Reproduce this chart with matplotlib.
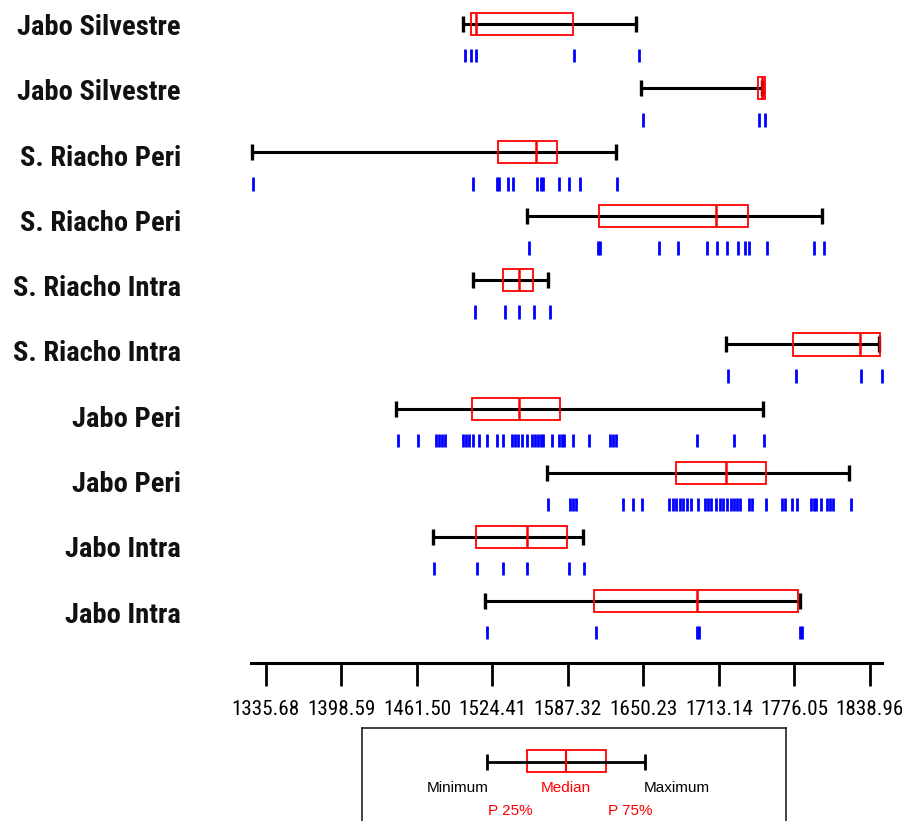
import numpy as np
import matplotlib.pyplot as plt
from matplotlib.patches import Rectangle
from matplotlib import transforms
from matplotlib import font_manager as fm

# rows from top to bottom
labels = ["Jabo Silvestre", "Jabo Silvestre", "S. Riacho Peri", "S. Riacho Peri",
          "S. Riacho Intra", "S. Riacho Intra", "Jabo Peri", "Jabo Peri",
          "Jabo Intra", "Jabo Intra"]

mins = [1499.9, 1647.8, 1323.8, 1552.9, 1507.9, 1719.0, 1444.0, 1569.6, 1474.6, 1518.2]
q1s = [1506.1, 1745.4, 1529.3, 1613.2, 1533.4, 1775.1, 1507.3, 1677.4, 1510.4, 1609.3]
meds = [1510.3, 1748.7, 1560.7, 1710.7, 1546.8, 1830.7, 1546.8, 1719.0, 1552.9, 1694.6]
q3s = [1591.9, 1751.5, 1578.4, 1737.6, 1558.4, 1847.3, 1580.9, 1752.3, 1586.8, 1778.8]
maxs = [1644.4, 1748.7, 1627.1, 1798.8, 1570.9, 1846.8, 1749.6, 1821.5, 1599.6, 1780.7]

# individual observations (rug under each box)
rug = [
    [1501.5, 1506.3, 1510.7, 1592.6, 1646.2],
    [1649.6, 1746.8, 1751.5],
    [1324.8, 1508.4, 1527.9, 1530.1, 1537.1, 1541.8, 1561.3, 1564.9, 1566.8,
     1579.8, 1588.2, 1597.3, 1627.9],
    [1555.1, 1612.3, 1614.0, 1663.4, 1678.8, 1703.0, 1711.3, 1719.6, 1728.8,
     1734.8, 1738.4, 1752.9, 1792.6, 1800.7],
    [1509.8, 1534.8, 1546.8, 1559.0, 1572.3],
    [1720.9, 1777.1, 1831.3, 1848.7],
    [1445.9, 1462.6, 1477.3, 1479.8, 1482.3, 1484.8, 1499.8, 1502.3, 1504.8,
     1508.4, 1513.4, 1519.6, 1528.4, 1532.9, 1540.7, 1543.2, 1545.3, 1548.7,
     1552.9, 1557.3, 1559.8, 1562.3, 1564.8, 1566.5, 1573.8, 1580.2, 1582.3,
     1584.4, 1591.2, 1605.1, 1622.7, 1625.2, 1627.7, 1694.6, 1725.6, 1750.6],
    [1570.9, 1589.0, 1591.5, 1594.4, 1633.4, 1641.3, 1648.8, 1671.5, 1674.4,
     1677.4, 1680.3, 1682.8, 1686.1, 1689.9, 1695.9, 1701.1, 1703.6, 1706.1,
     1710.7, 1713.6, 1716.5, 1719.9, 1722.8, 1725.7, 1728.2, 1730.7, 1737.8,
     1740.7, 1752.1, 1765.4, 1768.2, 1774.3, 1777.9, 1789.4, 1791.9, 1794.0,
     1798.2, 1802.9, 1805.7, 1807.9, 1822.9],
    [1475.7, 1511.3, 1532.9, 1553.4, 1587.9, 1600.9],
    [1519.6, 1610.4, 1694.6, 1696.2, 1780.7, 1782.3],
]

tick_values = [1335.68, 1398.59, 1461.50, 1524.41, 1587.32, 1650.23, 1713.14, 1776.05, 1838.96]
tick_labels = ["%.2f" % v for v in tick_values]

# legend key: min, P25, median, P75, max (schematic)
legend_stats = [0.0, 0.25, 0.5, 0.75, 1.0]

# pick a narrow font if one is there, otherwise plain Liberation Sans a bit smaller
names = {f.name for f in fm.fontManager.ttflist}
if 'Liberation Sans Narrow' in names:
    narrow = dict(family=['Liberation Sans Narrow', 'DejaVu Sans'])
    lab_size, tick_size = 20, 16
elif 'Roboto Condensed' in names:
    narrow = dict(family=['Roboto Condensed', 'DejaVu Sans'])
    lab_size, tick_size = 20.5, 15.2
else:
    narrow = dict(family=['Liberation Sans', 'DejaVu Sans'])
    lab_size, tick_size = 17, 13.5

fig = plt.figure(figsize=(9.03, 8.21), dpi=100)
ax = fig.add_axes([0, 0, 1, 1])
ax.set_xlim(1114.04, 1866.46)
ax.set_ylim(12.434, -0.374)

for i in range(len(labels)):
    y = i
    ax.hlines(y, mins[i], maxs[i], color='black', lw=2.2, zorder=2)
    ax.vlines([mins[i], maxs[i]], y - 0.125, y + 0.125, color='black', lw=2.4, zorder=2)
    ax.add_patch(Rectangle((q1s[i], y - 0.172), q3s[i] - q1s[i], 0.344,
                           fill=False, ec='red', lw=1.3, zorder=3))
    ax.vlines(meds[i], y - 0.172, y + 0.172, color='red', lw=1.8, zorder=3)
    ax.vlines(rug[i], y + 0.39, y + 0.60, color='blue', lw=2.0, zorder=2)

# row labels
lab_tr = transforms.blended_transform_factory(ax.transAxes, ax.transData)
for i, lab in enumerate(labels):
    ax.text(0.2004, 0.1716 + 1.0187 * i, lab, transform=lab_tr, ha='right',
            va='baseline', fontsize=lab_size, fontweight='bold',
            color='#111111', **narrow)

# axis
for s in ['top', 'left', 'right']:
    ax.spines[s].set_visible(False)
ax.spines['bottom'].set_position(('data', 9.969))
ax.spines['bottom'].set_bounds(1323.0, 1848.7)
ax.spines['bottom'].set_linewidth(2.2)
ax.set_yticks([])
ax.set_xticks(tick_values)
ax.set_xticklabels(tick_labels, fontsize=tick_size, **narrow)
ax.tick_params(axis='x', direction='out', length=16.5, width=2.0, pad=10)
ax.patch.set_visible(False)

# legend box
lax = fig.add_axes([362 / 903, 0, (786 - 362) / 903, (821 - 728) / 821])
lax.set_xlim(-0.791, 1.892)
lax.set_ylim(93, 0)
lax.set_xticks([])
lax.set_yticks([])
lax.spines['bottom'].set_visible(False)
for s in ['top', 'left', 'right']:
    lax.spines[s].set_linewidth(1.2)
    lax.spines[s].set_color('#222222')
mn, p25, md, p75, mx = legend_stats
lax.hlines(34, mn, mx, color='black', lw=2.0)
lax.vlines([mn, mx], 26, 42, color='black', lw=2.0)
lax.add_patch(Rectangle((p25, 22), p75 - p25, 22, fill=False, ec='red', lw=1.3))
lax.vlines(md, 22, 44, color='red', lw=1.5)
lfont = dict(family=['Liberation Sans', 'DejaVu Sans'], fontsize=11, va='baseline')
lax.text(mn + 0.01, 64, "Minimum", ha='right', color='black', **lfont)
lax.text(md, 64, "Median", ha='center', color='red', **lfont)
lax.text(mx - 0.01, 64, "Maximum", ha='left', color='black', **lfont)
lax.text(0.146, 87, "P 25%", ha='center', color='red', **lfont)
lax.text(0.905, 87, "P 75%", ha='center', color='red', **lfont)

fig.savefig('out.png', dpi=100)
